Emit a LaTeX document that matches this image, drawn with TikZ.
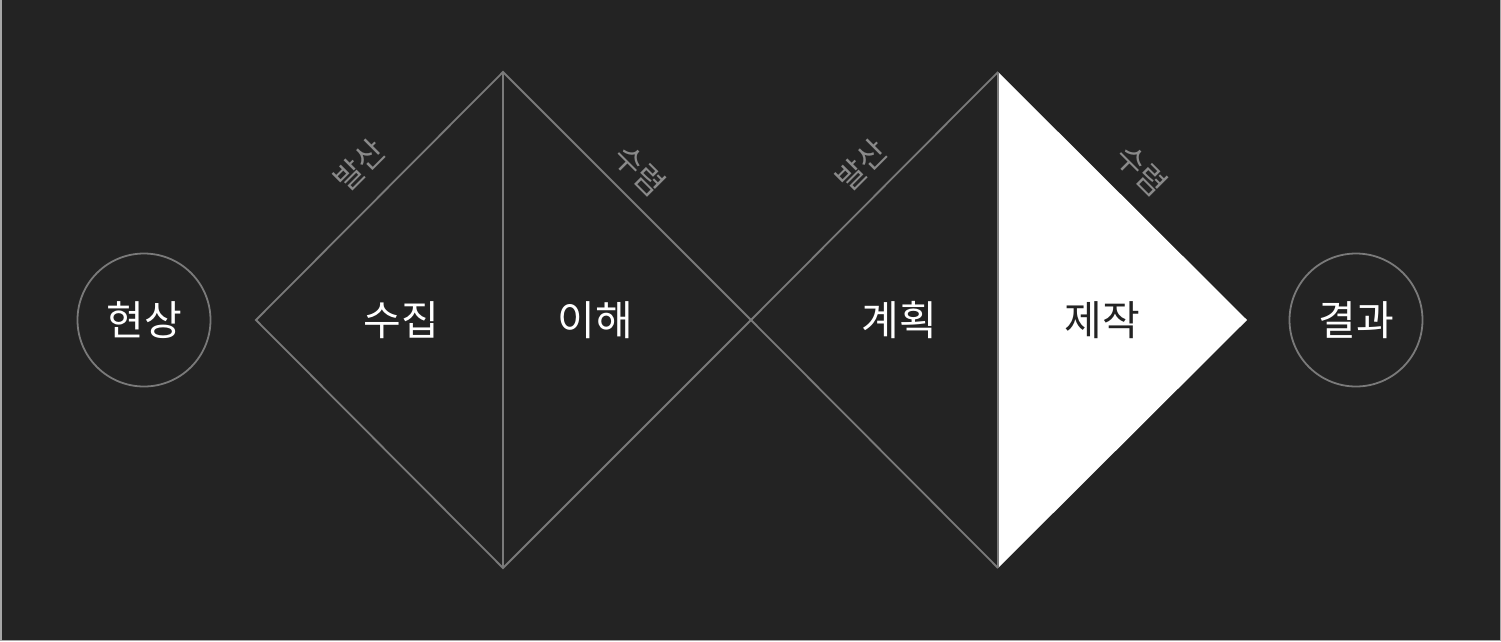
\documentclass[tikz,border=0pt]{standalone}
\usepackage{fontspec}
\setmainfont{Noto Sans CJK KR}
\definecolor{bg}{HTML}{232323}
\definecolor{ln}{HTML}{7A7A7A}
\definecolor{lbl}{HTML}{8A8A8A}
\tikzset{
  edge/.style={draw=ln, line width=1.8pt},
  mainlbl/.style={font=\fontsize{41}{44}\selectfont, text=white, inner sep=0pt},
  darklbl/.style={font=\fontsize{41}{44}\selectfont, text=bg, inner sep=0pt},
  sidelbl/.style={font=\fontsize{31}{34}\selectfont, text=lbl, inner sep=0pt},
  endcircle/.style={circle, draw=ln, line width=1.8pt, minimum size=133pt, inner sep=0pt, font=\fontsize{41}{44}\selectfont, text=white}
}
\begin{document}
\begin{tikzpicture}[x=1pt, y=-1pt]
\fill[bg] (0,0) rectangle (1501,641);
\useasboundingbox (0,0) rectangle (1501,641);
\draw[draw=gray!70, line width=1.5pt] (0.75,0) -- (0.75,640.25) -- (1500.25,640.25) -- (1500.25,0);
% coordinates
\coordinate (L1) at (256,320);
\coordinate (T1) at (503,72);
\coordinate (B1) at (503,568);
\coordinate (M) at (751,320);
\coordinate (T2) at (998,72);
\coordinate (B2) at (998,568);
\coordinate (R2) at (1247,320);
% white half
\fill[white] (T2) -- (R2) -- (B2) -- cycle;
% diamonds
\draw[edge, line join=miter] (L1) -- (T1) -- (M) -- (B1) -- cycle;
\draw[edge] (T1) -- (B1);
\draw[edge] (M) -- (T2);
\draw[edge] (M) -- (B2);
\draw[edge] (T2) -- (B2);
% circles
\node[endcircle] (c1) at (144,320) {현상};
\node[endcircle] (c2) at (1356,320) {결과};
% labels
\node[mainlbl] (n1) at (401,320) {수집};
\node[mainlbl] (n2) at (595,320) {이해};
\node[mainlbl] (n3) at (899,320) {계획};
\node[darklbl] (n4) at (1102,320) {제작};
% side labels
\node[sidelbl, rotate=45] (s1) at (359,165) {발산};
\node[sidelbl, rotate=-45] (s2) at (640,170) {수렴};
\node[sidelbl, rotate=45] (s3) at (861,165) {발산};
\node[sidelbl, rotate=-45] (s4) at (1142,170) {수렴};
\end{tikzpicture}
\end{document}
